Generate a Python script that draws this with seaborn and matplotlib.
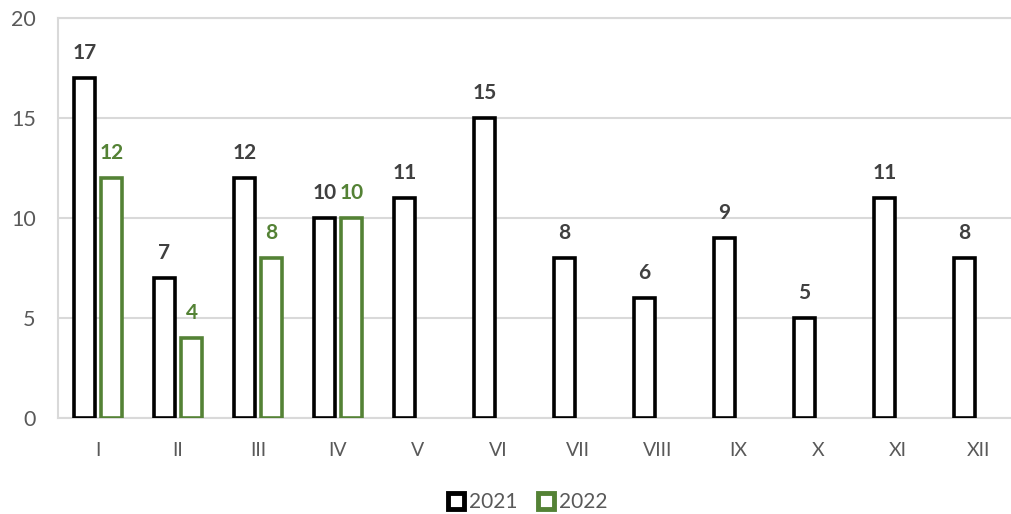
import pandas as pd
import matplotlib.pyplot as plt
import seaborn as sns
from matplotlib.patches import Patch

months = ["I", "II", "III", "IV", "V", "VI", "VII", "VIII", "IX", "X", "XI", "XII"]
y2021 = [17, 7, 12, 10, 11, 15, 8, 6, 9, 5, 11, 8]
y2022 = [12, 4, 8, 10, None, None, None, None, None, None, None, None]

df = pd.DataFrame({
    "Month": months * 2,
    "Value": y2021 + y2022,
    "Year": ["2021"] * 12 + ["2022"] * 12,
})

edge_colors = {"2021": "#000000", "2022": "#548235"}
label_colors = {"2021": "#404040", "2022": "#548235"}

sns.set_style("white")
plt.rcParams["font.family"] = ["Lato", "DejaVu Sans"]

fig = plt.figure(figsize=(10.11, 5.14), dpi=100)
ax = fig.add_axes([58 / 1011, 96 / 514, 960 / 1011, 400 / 514])

sns.barplot(data=df, x="Month", y="Value", hue="Year", order=months,
            hue_order=["2021", "2022"], width=0.675, gap=0.2,
            fill=False, palette=edge_colors, linewidth=2.6, legend=False, ax=ax)

# white faces, coloured edges, value labels on top
for container, year in zip(ax.containers, ["2021", "2022"]):
    for bar in container:
        bar.set_facecolor("white")
        bar.set_edgecolor(edge_colors[year])
        bar.set_linewidth(2.6)
        bar.set_zorder(3)
    vals = df[df["Year"] == year]["Value"].tolist()
    for bar, v in zip(container, vals):
        if pd.isna(v):
            continue
        ax.annotate(f"{int(v)}", (bar.get_x() + bar.get_width() / 2, v),
                    xytext=(0, 11), textcoords="offset points",
                    ha="center", va="bottom", fontsize=15, fontweight="bold",
                    color=label_colors[year])

ax.set_xlim(-0.5, 11.5)
ax.set_ylim(0, 20)
ax.set_yticks([0, 5, 10, 15, 20])
ax.yaxis.grid(True, color="#d9d9d9", linewidth=1.5, zorder=0)
ax.set_axisbelow(True)
for s in ["left", "top", "bottom"]:
    ax.spines[s].set_color("#d9d9d9")
    ax.spines[s].set_linewidth(1.5)
ax.spines["right"].set_visible(False)
ax.tick_params(axis="both", length=0, colors="#595959")
ax.tick_params(axis="y", pad=16, labelsize=15.5)
ax.tick_params(axis="x", pad=17, labelsize=14)
ax.set_xlabel("")
ax.set_ylabel("")

handles = [Patch(facecolor="white", edgecolor=edge_colors[y], linewidth=3.5, label=y)
           for y in ["2021", "2022"]]
fig.legend(handles=handles, loc="lower center", bbox_to_anchor=(0.522, -0.033), ncol=2,
           frameon=False, fontsize=15, handlelength=0.75, handleheight=0.75,
           handletextpad=0.25, columnspacing=1.0, labelcolor="#595959")

fig.savefig("out.png", dpi=100)
